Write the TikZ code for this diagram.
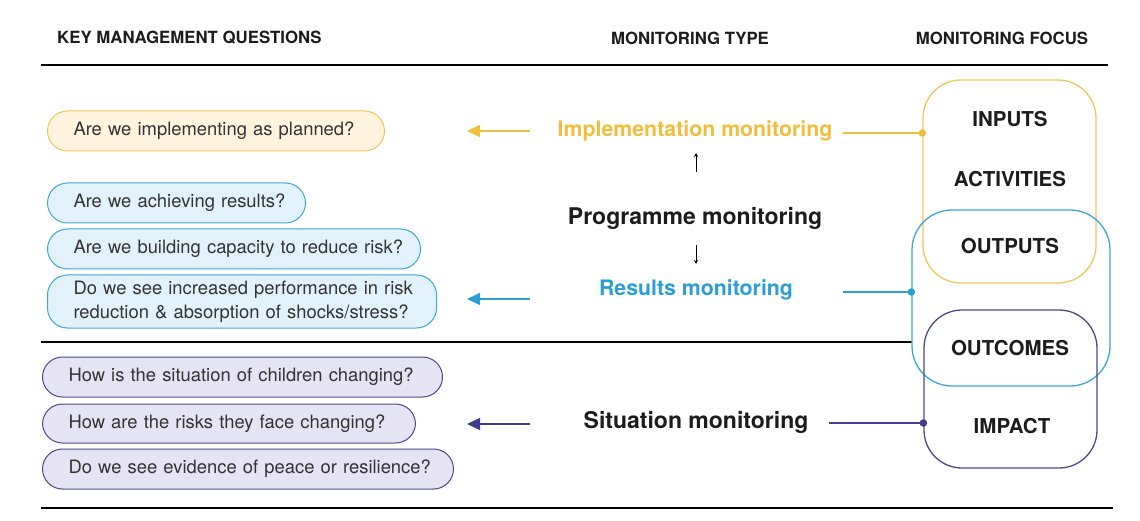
\documentclass[tikz,border=0pt]{standalone}
\usepackage{fontspec}
\setmainfont{TeX Gyre Heros}
\usetikzlibrary{arrows.meta}
\definecolor{ylw}{HTML}{F2BD3A}
\definecolor{ylwline}{HTML}{F0C55A}
\definecolor{ylwfill}{HTML}{FEF4DE}
\definecolor{blu}{HTML}{2A9FD6}
\definecolor{bluline}{HTML}{3FA6D2}
\definecolor{blufill}{HTML}{E2F2FB}
\definecolor{pur}{HTML}{3F3D8C}
\definecolor{purline}{HTML}{4B4A86}
\definecolor{purfill}{HTML}{E5E3F4}
\definecolor{txt}{HTML}{333333}
\definecolor{dark}{HTML}{1C1C1C}
\tikzset{
  header/.style={font=\fontsize{16.8}{20}\selectfont\bfseries, text=dark, inner sep=0pt},
  qbox/.style={rounded corners=20pt, line width=1pt, inner xsep=26pt, inner ysep=0pt,
    align=left, anchor=west, text=txt, font=\fontsize{18.4}{24}\selectfont},
  ybox/.style={qbox, draw=ylwline, fill=ylwfill},
  bbox/.style={qbox, draw=bluline, fill=blufill},
  pbox/.style={qbox, draw=purline, fill=purfill},
  mtype/.style={font=\fontsize{21.3}{24}\selectfont\bfseries, inner sep=0pt},
  bigtype/.style={font=\fontsize{23}{26}\selectfont\bfseries, inner sep=0pt, text=dark},
  focus/.style={draw, line width=1.3pt, fill=none},
  ftext/.style={font=\fontsize{20.5}{24}\selectfont\bfseries, text=dark, inner sep=0pt},
  rule/.style={line width=1.2pt, black},
  bigarrow/.style={line width=1.3pt, -{Triangle[length=13pt,width=12pt]}},
  smallarrow/.style={line width=0.9pt, -{Stealth[length=4pt,width=4pt]}},
  link/.style={line width=1.2pt},
}
\begin{document}
\begin{tikzpicture}[x=1pt,y=-1pt]
\useasboundingbox (0,0) rectangle (1140,521);

% headers
\node[header, anchor=west] (h1) at (57,38) {KEY MANAGEMENT QUESTIONS};
\node[header] (h2) at (690,38) {MONITORING TYPE};
\node[header] (h3) at (1002,38) {MONITORING FOCUS};

% rules
\coordinate (r1a) at (41,65);   \coordinate (r1b) at (1108,65);
\coordinate (r2a) at (41,342);  \coordinate (r2b) at (912,342);
\coordinate (r3a) at (41,508);  \coordinate (r3b) at (1113,508);
\draw[rule] (r1a) -- (r1b);
\draw[rule] (r2a) -- (r2b);
\draw[rule] (r3a) -- (r3b);

% question boxes
\node[ybox, text width=285pt, minimum height=40pt] (q1) at (47,131) {\mbox{Are we implementing as planned?}};
\node[bbox, text width=206pt, minimum height=40pt] (q2) at (47,203) {\mbox{Are we achieving results?}};
\node[bbox, text width=321pt, minimum height=40pt] (q3) at (47,249) {\mbox{Are we building capacity to reduce risk?}};
\node[bbox, text width=337pt, minimum height=53pt] (q4) at (47,301.5) {\mbox{Do we see increased performance in risk}\\\mbox{reduction \& absorption of shocks/stress?}};
\node[pbox, text width=348pt, minimum height=40pt] (q5) at (42,377) {\mbox{How is the situation of children changing?}};
\node[pbox, text width=321pt, minimum height=39pt] (q6) at (42,423.5) {\mbox{How are the risks they face changing?}};
\node[pbox, text width=359pt, minimum height=40pt] (q7) at (42,469) {\mbox{Do we see evidence of peace or resilience?}};

% monitoring types
\node[mtype, text=ylw] (impl) at (695,131) {Implementation monitoring};
\node[bigtype] (prog) at (695,218) {Programme monitoring};
\node[mtype, text=blu] (res) at (696,290) {Results monitoring};
\node[bigtype] (sit) at (696,422) {Situation monitoring};

% small arrows
\coordinate (ua) at (696,172); \coordinate (ub) at (696,153);
\coordinate (da) at (696,245); \coordinate (db) at (696,264);
\draw[smallarrow] (ua) -- (ub);
\draw[smallarrow] (da) -- (db);

% left arrows
\coordinate (ya) at (530,131); \coordinate (yb) at (467,131);
\coordinate (ba) at (530,299); \coordinate (bb) at (467,299);
\coordinate (pa) at (530,424); \coordinate (pb) at (467,424);
\draw[bigarrow, ylw] (ya) -- (yb);
\draw[bigarrow, blu] (ba) -- (bb);
\draw[bigarrow, pur] (pa) -- (pb);

% focus boxes
\node[focus, draw=ylwline, rounded corners=38pt, minimum width=173pt, minimum height=203pt] (fy) at (1009.5,181.5) {};
\node[focus, draw=bluline, rounded corners=40pt, minimum width=198pt, minimum height=176pt] (fb) at (1011,298) {};
\node[focus, draw=purline, rounded corners=38pt, minimum width=173pt, minimum height=158pt] (fp) at (1010.5,389) {};

\node[ftext] (inp) at (1010,119) {INPUTS};
\node[ftext] (act) at (1010,179) {ACTIVITIES};
\node[ftext] (outp) at (1010,246) {OUTPUTS};
\node[ftext] (outc) at (1010,348) {OUTCOMES};
\node[ftext] (imp) at (1012,426) {IMPACT};

% links to focus boxes
\coordinate (ys) at (843,133); \coordinate (ye) at (fy.west |- ys);
\coordinate (bs) at (843,292); \coordinate (be) at (fb.west |- bs);
\coordinate (ps) at (829,423); \coordinate (pe) at (fp.west |- ps);
\draw[link, ylw] (ys) -- (ye);
\fill[ylw] (ye) circle (3.8pt);
\draw[link, blu] (bs) -- (be);
\fill[blu] (be) circle (3.8pt);
\draw[link, pur] (ps) -- (pe);
\fill[pur] (pe) circle (3.8pt);
\end{tikzpicture}
\end{document}
